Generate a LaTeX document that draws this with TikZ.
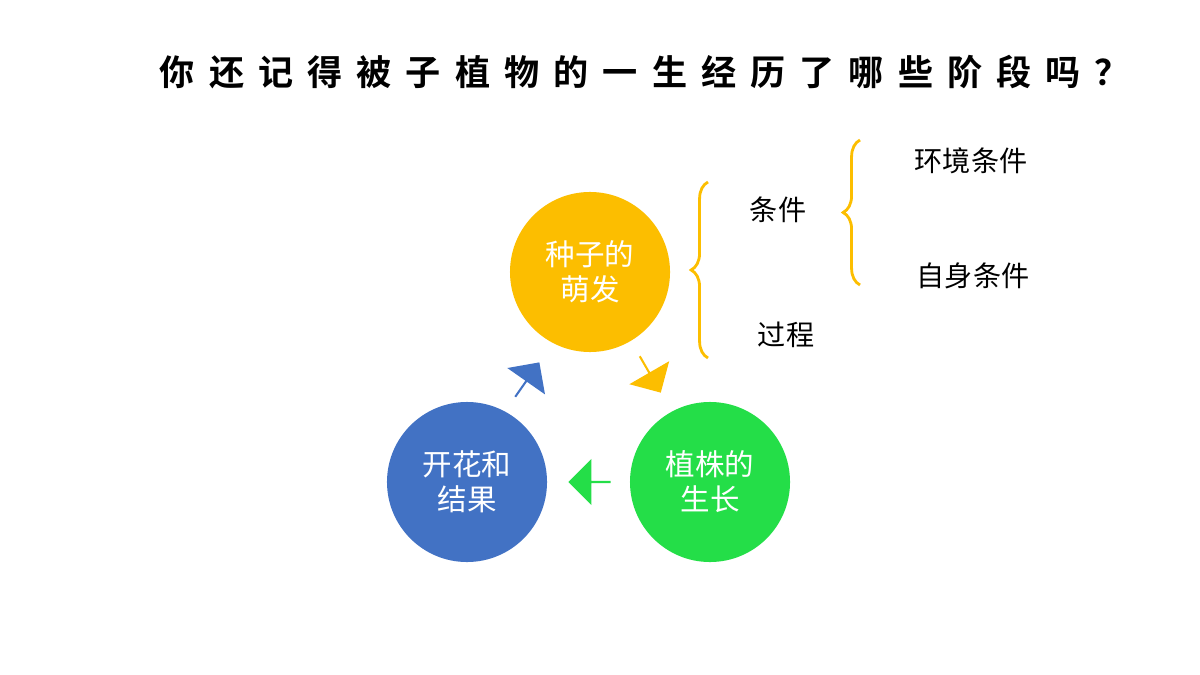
\documentclass[tikz,border=0pt]{standalone}
\usepackage{fontspec}
\newfontfamily\cjk{Noto Sans CJK SC}
\newfontfamily\titlefont[LetterSpace=40]{Noto Sans CJK SC Bold}
\usetikzlibrary{shapes.arrows,decorations.pathreplacing}
\definecolor{cyellow}{RGB}{252,190,0}
\definecolor{cgreen}{RGB}{36,222,72}
\definecolor{cblue}{RGB}{66,114,196}
\definecolor{cbrace}{RGB}{252,190,0}
\tikzset{
  stage/.style={circle,minimum size=4cm,inner sep=0pt,align=center,text=white,font=\cjk\fontsize{21}{25}\selectfont},
  turn/.style={single arrow,minimum height=1.05cm,minimum width=1.15cm,single arrow head extend=0.15cm,inner sep=0pt,draw=none},
  part/.style={font=\cjk\fontsize{20}{24}\selectfont,inner sep=0pt},
  curly/.style={decorate,decoration={brace,amplitude=12pt},draw=cbrace,line width=2pt}
}
\begin{document}
\begin{tikzpicture}[x=0.025cm,y=-0.025cm]
  \useasboundingbox (0,0) rectangle (1200,675);
  \node[font=\titlefont\fontsize{25}{30}\selectfont] (T) at (645,72) {你还记得被子植物的一生经历了哪些阶段吗？};
  \node[stage,fill=cyellow] (S1) at (590,272) {种子的\\萌发};
  \node[stage,fill=cgreen] (S2) at (710,482) {植株的\\生长};
  \node[stage,fill=cblue] (S3) at (467,482) {开花和\\结果};
  \node[turn,fill=cblue,rotate=55] (A1) at (527,380) {};
  \node[turn,fill=cyellow,rotate=-60] (A2) at (650,374) {};
  \node[turn,fill=cgreen,rotate=180] (A3) at (590,482) {};
  \coordinate (B1a) at (708,358);
  \coordinate (B1b) at (708,182);
  \draw[curly] (B1a) -- (B1b);
  \coordinate (B2a) at (860,285);
  \coordinate (B2b) at (860,140);
  \draw[curly] (B2a) -- (B2b);
  \node[part] (C) at (778,210) {条件};
  \node[part] (P) at (786,335) {过程};
  \node[part] (E) at (971,161) {环境条件};
  \node[part] (Z) at (973,276) {自身条件};
\end{tikzpicture}
\end{document}
